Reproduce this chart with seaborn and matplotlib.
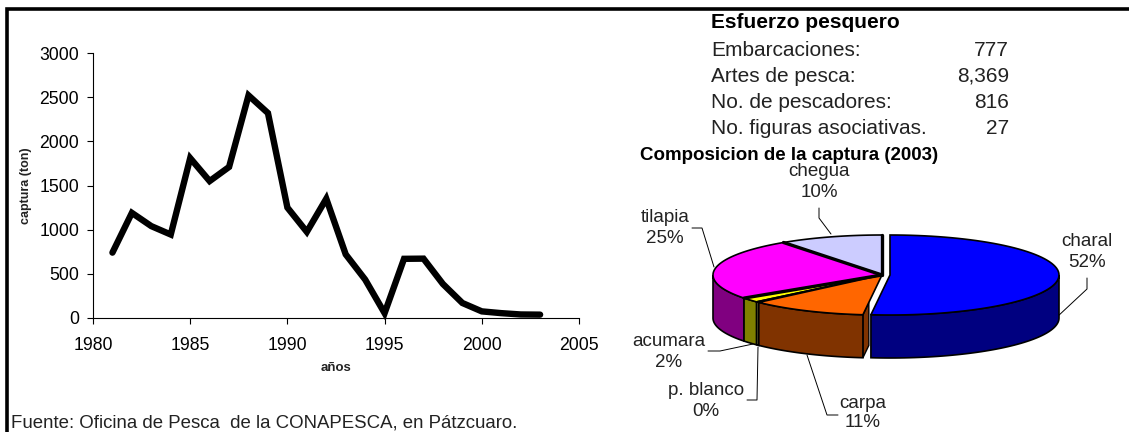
import numpy as np
import pandas as pd
import matplotlib
matplotlib.use('Agg')
import matplotlib.pyplot as plt
import seaborn as sns

# data
years = [1981, 1982, 1983, 1984, 1985, 1986, 1987, 1988, 1989, 1990, 1991, 1992,
         1993, 1994, 1995, 1996, 1997, 1998, 1999, 2000, 2001, 2002, 2003]
catch_ton = [740, 1190, 1040, 945, 1810, 1550, 1710, 2520, 2320, 1250, 975, 1350,
             720, 435, 55, 670, 672, 385, 170, 75, 55, 40, 38]

species = ['charal', 'carpa', 'p. blanco', 'acumara', 'tilapia', 'chegua']
shares = [51.8, 11.2, 0.3, 1.9, 24.9, 9.9]
top_colors = ['#0000FF', '#FF6600', '#FFFF99', '#FFFF00', '#FF00FF', '#CCCCFF']
side_colors = ['#000080', '#803300', '#808040', '#808000', '#800080', '#666680']

effort_labels = ['Embarcaciones:', 'Artes de pesca:', 'No. de pescadores:', 'No. figuras asociativas.']
effort_values = ['777', '8,369', '816', '27']

sns.set_theme(style='white')
plt.rcParams['font.family'] = ['Liberation Sans', 'DejaVu Sans']

fig = plt.figure(figsize=(11.29, 4.32), dpi=100, facecolor='white')
W, H = 1129, 432

# overlay in pixel coordinates for frame, table and pie
ov = fig.add_axes([0, 0, 1, 1])
ov.set_xlim(0, W)
ov.set_ylim(H, 0)
ov.axis('off')

# ── Line chart ───────────────────────────────
ax = fig.add_axes([93 / W, 1 - 318 / H, (579 - 93) / W, (318 - 53) / H])
ax.patch.set_alpha(0)
df = pd.DataFrame({'year': years, 'catch': catch_ton})
sns.lineplot(data=df, x='year', y='catch', color='black', lw=4.6, ax=ax,
             solid_joinstyle='miter', solid_capstyle='round', clip_on=False)
ax.set_xlim(1980, 2005)
ax.set_ylim(0, 3000)
ax.set_xticks(range(1980, 2006, 5))
ax.set_yticks(range(0, 3001, 500))
ax.tick_params(axis='both', direction='out', length=4, width=0.8, labelsize=12.7,
               color='black', labelcolor='black', left=True, bottom=True)
ax.tick_params(axis='x', pad=9.5)
ax.tick_params(axis='y', pad=6)
ax.spines[['top', 'right']].set_visible(False)
for s in ['left', 'bottom']:
    ax.spines[s].set_color('black')
    ax.spines[s].set_linewidth(0.8)
ax.set_xlabel('años', fontsize=9.5, fontweight='bold', color='#222222', labelpad=6)
ax.set_ylabel('captura (ton)', fontsize=9, fontweight='bold', color='#222222', labelpad=5)

# ── Frame and source ─────────────────────────
ov.plot([6.5, 6.5, W], [H, 8.5, 8.5], color='black', lw=2.6, solid_joinstyle='miter')
ov.text(11, 423, 'Fuente: Oficina de Pesca  de la CONAPESCA, en Pátzcuaro.',
        fontsize=13.4, color='#222222', va='center', ha='left')

# ── Effort table ─────────────────────────────
ov.text(711, 23, 'Esfuerzo pesquero', fontsize=15, fontweight='bold', va='center', color='black')
for i, (lab, val) in enumerate(zip(effort_labels, effort_values)):
    y = 50 + i * 26
    ov.text(711, y, lab, fontsize=15, va='center', color='#222222')
    ov.text(1009, y, val, fontsize=15, va='center', ha='right', color='#222222')

# ── 3D pie ───────────────────────────────────
ov.text(640, 155, 'Composicion de la captura (2003)', fontsize=13.5, fontweight='bold',
        va='center', color='black')

CX, CY = 882, 275
RX, RY = 169, 40
DEPTH = 43
EXPLODE = 8

fracs = np.array(shares) / sum(shares)
edges = 90 - 360 * np.concatenate([[0], np.cumsum(fracs)])


def rim(cx, t):
    t = np.radians(t)
    return cx + RX * np.cos(t), CY - RY * np.sin(t)


order = [5, 4, 3, 2, 1, 0]
for i in order:
    cx = CX + EXPLODE if i == 0 else CX
    t0, t1 = edges[i], edges[i + 1]
    # outer wall only for the part on the front half (sin < 0)
    lo, hi = max(t1, -180), min(t0, 0)
    if lo < hi:
        ts = np.linspace(hi, lo, 60)
        xs, ys = rim(cx, ts)
        ov.fill(np.r_[xs, xs[::-1]], np.r_[ys, ys[::-1] + DEPTH],
                fc=side_colors[i], ec='black', lw=1.2, zorder=2 + order.index(i))
    # end wall of carpa seen through the gap next to charal
    if i == 1:
        xe, ye = rim(cx, t0)
        xm, ym = xe + 0.31 * (cx - xe), ye + 0.31 * (CY - ye)
        ov.fill([xe, xm, xm, xe], [ye, ym, ym + DEPTH, ye + DEPTH],
                fc=side_colors[i], ec='black', lw=1.0, zorder=2)
    ts = np.linspace(t0, t1, 80)
    xs, ys = rim(cx, ts)
    ov.fill(np.r_[cx, xs], np.r_[CY, ys], fc=top_colors[i], ec='black', lw=1.2, zorder=10)
    if i in (3, 4, 5):
        xe, ye = rim(cx, t1)
        ov.plot([cx, xe], [CY, ye], color='black', lw=2.4, zorder=11)

# leader lines and labels
leaders = [
    ([1057, 1087, 1087], [317, 289, 278]),
    ([807, 827, 838], [355, 415, 415]),
    ([758, 757, 747], [347, 400, 400]),
    ([753, 720, 708], [344, 351, 351]),
    ([714, 702, 692], [267, 228, 228]),
    ([831, 819, 819], [234, 218, 208]),
]
for xs, ys in leaders:
    ov.plot(xs, ys, color='black', lw=0.7, zorder=1)

pie_labels = {'charal': (1087, 252), 'carpa': (863, 413), 'p. blanco': (706, 401),
              'acumara': (669, 352), 'tilapia': (665, 228), 'chegua': (819, 182)}
for name, share in zip(species, shares):
    x, y = pie_labels[name]
    ov.text(x, y, f'{name}\n{round(share)}%', fontsize=13.5, ha='center', va='center',
            color='#222222', linespacing=1.26 if name != 'carpa' else 1.12)

fig.savefig('out.png', dpi=100, facecolor='white')
